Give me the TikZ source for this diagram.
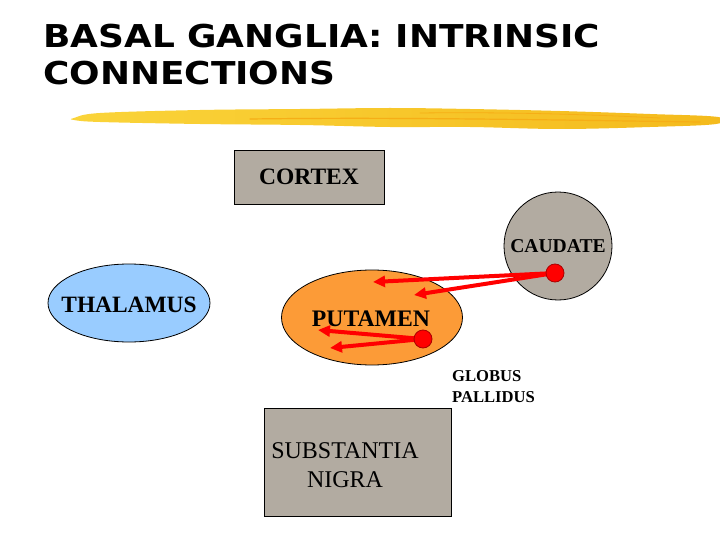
\documentclass[tikz,border=0pt]{standalone}
\usepackage{fontspec}
\setmainfont{Liberation Serif}
\newfontfamily\headfont{DejaVu Sans}[FakeStretch=1.14]
\usetikzlibrary{arrows.meta,shapes.geometric}

\definecolor{boxgray}{RGB}{178,171,161}
\definecolor{thalblue}{RGB}{153,204,255}
\definecolor{putorange}{RGB}{252,155,55}
\definecolor{brushlight}{RGB}{250,212,58}
\definecolor{brushdark}{RGB}{244,186,28}
\definecolor{dotrim}{RGB}{170,0,0}

\begin{document}
\begin{tikzpicture}[x=1pt,y=-1pt]
\tikzstyle{title} = [anchor=base west, inner sep=0pt,
font=\headfont\bfseries\fontsize{31.5}{37}\selectfont]
\tikzstyle{graybox} = [rectangle, draw=black, line width=0.8pt, fill=boxgray]
\tikzstyle{blob} = [draw=black, line width=0.8pt, inner sep=0pt]
\tikzstyle{dot} = [circle, draw=dotrim, line width=0.8pt, fill=red,
minimum size=18pt, inner sep=0pt]
\tikzstyle{fiber} = [draw=red, line width=4pt,
-{Triangle[length=12pt,width=11pt]}]
\useasboundingbox (0,0) rectangle (720,540);
% heading
\node [title] (title1) at (43,48) {BASAL GANGLIA: INTRINSIC};
\node [title] (title2) at (43,85) {CONNECTIONS};
% brush stroke under the heading
\shade [left color=brushlight, right color=brushdark]
plot [smooth cycle, tension=0.6] coordinates {(74,118) (100,113) (200,110)
(300,109) (390,108) (470,109) (560,111) (650,114) (718,117)
(716,124) (650,127) (560,129) (470,127) (390,127) (300,125) (200,124)
(100,122) (74,120)};
\draw [brushdark!80!orange, line width=1.2pt, line cap=round]
(250,119) .. controls (400,117) and (550,120) .. (700,122);
\draw [brushdark!80!orange, line width=0.8pt, line cap=round]
(420,113) .. controls (500,112) and (580,114) .. (660,118);
% structures
\node [graybox, minimum width=150pt, minimum height=54pt,
font=\bfseries\fontsize{23.5}{28}\selectfont] (cortex) at (309,177) {CORTEX};
\node [blob, circle, fill=boxgray, minimum size=108pt,
font=\bfseries\fontsize{19.6}{24}\selectfont] (caudate) at (558,246) {CAUDATE};
\node [blob, ellipse, fill=thalblue, minimum width=162pt, minimum height=78pt,
label={[font=\bfseries\fontsize{23.4}{28}\selectfont, inner sep=0pt,
yshift=-1.5pt]center:THALAMUS}] (thalamus) at (129,303) {};
\node [blob, ellipse, fill=putorange, minimum width=181pt, minimum height=95pt,
label={[font=\bfseries\fontsize{23.7}{28}\selectfont, inner sep=0pt,
xshift=-1pt, yshift=-1.5pt]center:PUTAMEN}] (putamen) at (372,317.5) {};
\node [anchor=north west, inner sep=0pt, align=left,
font=\bfseries\fontsize{16.6}{21.7}\selectfont] (globus) at (452,370)
{GLOBUS\\PALLIDUS};
\node [graybox, minimum width=187pt, minimum height=108pt] (nigra) at (357.5,462) {};
\node [inner sep=0pt, align=center, font=\fontsize{24}{29}\selectfont]
(nigralabel) at (345,465) {SUBSTANTIA\\NIGRA};
% fibres
\coordinate (cstart) at (555,273);
\coordinate (pstart) at (423,339);
\coordinate (ctipA) at (373,282);
\coordinate (ctipB) at (414,295);
\coordinate (ptipA) at (318,330);
\coordinate (ptipB) at (330,348);
\path [fiber] (cstart) -- (ctipA);
\path [fiber] (cstart) -- (ctipB);
\path [fiber] (pstart) -- (ptipA);
\path [fiber] (pstart) -- (ptipB);
\node [dot] (cdot) at (cstart) {};
\node [dot] (pdot) at (pstart) {};
\end{tikzpicture}
\end{document}
